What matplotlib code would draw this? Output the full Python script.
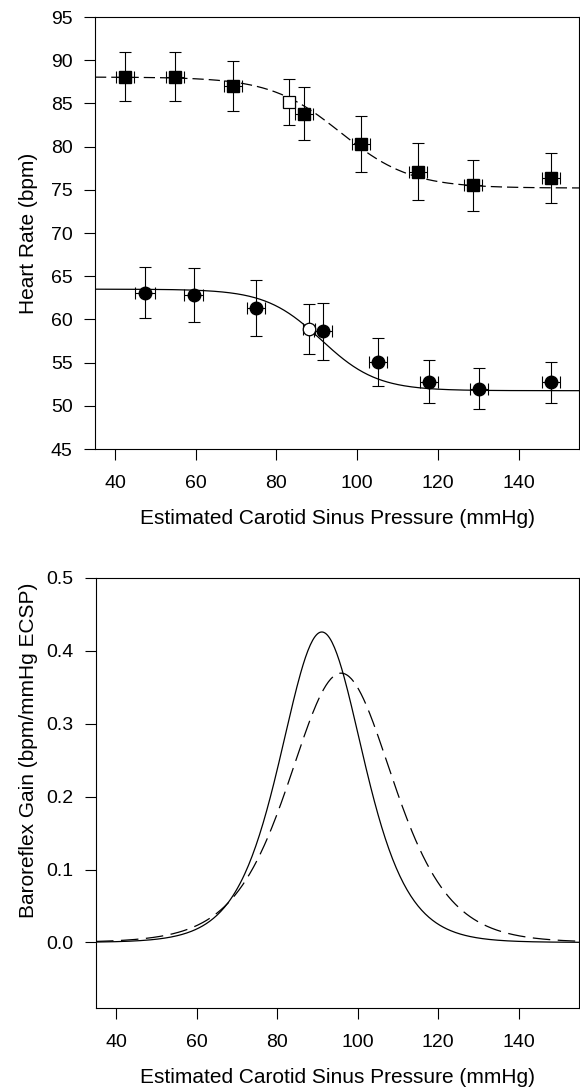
import numpy as np
import matplotlib
matplotlib.use('Agg')
import matplotlib.pyplot as plt

plt.rcParams['font.family'] = ['Liberation Sans', 'DejaVu Sans']
plt.rcParams['font.size'] = 14

# data #########################################################################

# squares (dashed fit)
ecsp_sq = [42.5, 54.9, 69.3, 86.9, 101.0, 115.1, 128.8, 148.0]
hr_sq = [88.1, 88.1, 87.0, 83.8, 80.3, 77.1, 75.5, 76.4]
hr_sq_err = [2.85, 2.8, 2.85, 3.05, 3.2, 3.3, 3.0, 2.9]
ecsp_sq_err = [2.2, 2.2, 2.2, 2.2, 2.2, 2.2, 2.2, 2.2]
op_sq = [83.2, 85.2, 2.65, 1.5]  # x, y, y err, x err (open square)

# circles (solid fit)
ecsp_ci = [47.4, 59.5, 75.0, 91.6, 105.1, 117.8, 130.2, 148.1]
hr_ci = [63.1, 62.8, 61.35, 58.6, 55.1, 52.8, 52.0, 52.7]
hr_ci_err = [2.95, 3.15, 3.25, 3.3, 2.8, 2.45, 2.35, 2.35]
ecsp_ci_err = [2.4, 2.4, 2.2, 2.2, 2.2, 2.2, 2.2, 2.2]
op_ci = [88.0, 58.9, 2.9, 1.5]

# logistic fit parameters: top, bottom, midpoint (mmHg), slope
fit_sq = [88.05, 75.2, 95.9, 0.115]
fit_ci = [63.5, 51.75, 91.1, 0.145]

x_ticks = [40, 60, 80, 100, 120, 140]
hr_ticks = [45, 50, 55, 60, 65, 70, 75, 80, 85, 90, 95]
gain_ticks = [0.0, 0.1, 0.2, 0.3, 0.4, 0.5]

###############################################################################

def logistic(x, p):
    top, bot, mid, k = p
    return bot + (top - bot)/(1 + np.exp(k*(x - mid)))

def logistic_gain(x, p):
    top, bot, mid, k = p
    e = np.exp(k*(x - mid))
    return (top - bot)*k*e/(1 + e)**2

def style_axes(ax):
    for s in ax.spines.values():
        s.set_linewidth(0.8)
    ax.tick_params(axis='both', direction='out', length=8, width=0.8, labelsize=14)
    ax.tick_params(axis='x', pad=11)
    ax.tick_params(axis='y', pad=8)
    ax.set_xticks(x_ticks)
    ax.set_xlim(35, 155)

fig = plt.figure(figsize=(5.8, 10.9), dpi=100)
ax1 = fig.add_axes([95/580, 1 - 449/1090, 484/580, 432/1090])
ax2 = fig.add_axes([96/580, 1 - 1008/1090, 483/580, 430/1090])

xs = np.linspace(35, 155, 400)

# top panel: heart rate
ax1.plot(xs, logistic(xs, fit_sq), color='black', lw=0.9, ls=(0, (9, 4)), zorder=1)
ax1.plot(xs, logistic(xs, fit_ci), color='black', lw=0.9, zorder=1)

eb = dict(fmt='none', ecolor='black', elinewidth=0.8, capsize=4, capthick=0.8, zorder=2)
ax1.errorbar(ecsp_sq, hr_sq, yerr=hr_sq_err, xerr=ecsp_sq_err, **eb)
ax1.errorbar(ecsp_ci, hr_ci, yerr=hr_ci_err, xerr=ecsp_ci_err, **eb)
ax1.errorbar([op_sq[0]], [op_sq[1]], yerr=[op_sq[2]], xerr=[op_sq[3]], **eb)
ax1.errorbar([op_ci[0]], [op_ci[1]], yerr=[op_ci[2]], xerr=[op_ci[3]], **eb)

ax1.plot(ecsp_sq, hr_sq, 's', ms=8.5, mfc='black', mec='black', zorder=3)
ax1.plot(ecsp_ci, hr_ci, 'o', ms=9, mfc='black', mec='black', zorder=3)
ax1.plot([op_sq[0]], [op_sq[1]], 's', ms=8.5, mfc='white', mec='black', mew=0.9, zorder=3)
ax1.plot([op_ci[0]], [op_ci[1]], 'o', ms=9, mfc='white', mec='black', mew=0.9, zorder=3)

style_axes(ax1)
ax1.set_ylim(45, 95)
ax1.set_yticks(hr_ticks)
ax1.set_xlabel('Estimated Carotid Sinus Pressure (mmHg)', fontsize=15, labelpad=12)
ax1.set_ylabel('Heart Rate (bpm)', fontsize=15)
ax1.yaxis.set_label_coords(-0.118, 0.5)

# bottom panel: gain
ax2.plot(xs, logistic_gain(xs, fit_ci), color='black', lw=0.9)
ax2.plot(xs, logistic_gain(xs, fit_sq), color='black', lw=0.9, ls=(0, (14, 6)))

style_axes(ax2)
ax2.set_ylim(-0.09, 0.5)
ax2.set_yticks(gain_ticks)
ax2.set_yticklabels(['%.1f' % t for t in gain_ticks])
ax2.set_xlabel('Estimated Carotid Sinus Pressure (mmHg)', fontsize=15, labelpad=12)
ax2.set_ylabel('Baroreflex Gain (bpm/mmHg ECSP)', fontsize=15)
ax2.yaxis.set_label_coords(-0.12, 0.6)

fig.savefig('out.png', dpi=100)
